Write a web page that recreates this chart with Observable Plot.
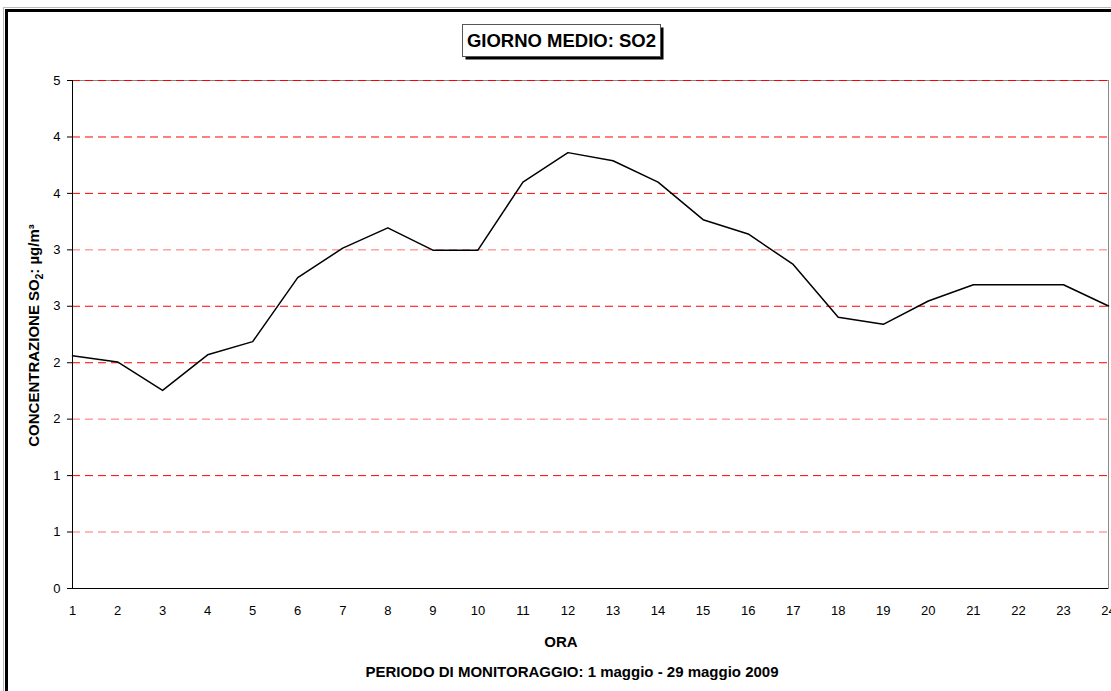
<!DOCTYPE html>
<html>
<head>
<meta charset="utf-8">
<script src="https://cdn.jsdelivr.net/npm/d3@7"></script>
<script src="https://cdn.jsdelivr.net/npm/@observablehq/plot@0.6"></script>
<style>
  html, body { margin: 0; padding: 0; background: #fff; overflow: hidden; }
  #chart { width: 1111px; height: 691px; }
</style>
</head>
<body>
<div id="chart"></div>
<script>
const hours = [1, 2, 3, 4, 5, 6, 7, 8, 9, 10, 11, 12, 13, 14, 15, 16, 17, 18, 19, 20, 21, 22, 23, 24];
const so2 = [2.29, 2.23, 1.95, 2.30, 2.43, 3.06, 3.35, 3.55, 3.33, 3.33, 4.00, 4.29, 4.21, 4.00, 3.63, 3.49, 3.19, 2.67, 2.60, 2.83, 2.99, 2.99, 2.99, 2.78];
const yTicks = [0, 0.556, 1.111, 1.667, 2.222, 2.778, 3.333, 3.889, 4.444, 5];
const yTickLabels = ["0", "1", "1", "2", "2", "3", "3", "4", "4", "5"];
const title = "GIORNO MEDIO: SO2";
const xLabel = "ORA";
const caption = "PERIODO DI MONITORAGGIO: 1 maggio - 29 maggio 2009";

const data = hours.map((h, i) => ({hour: h, value: so2[i]}));
const lightIdx = new Set([1, 3, 6]);
const gridStrong = yTicks.filter((d, i) => i > 0 && !lightIdx.has(i));
const gridLight = yTicks.filter((d, i) => lightIdx.has(i));

const font = "'Liberation Sans', Arial, sans-serif";

const chart = Plot.plot({
  width: 1111,
  height: 691,
  marginLeft: 72,
  marginRight: 3,
  marginTop: 80,
  marginBottom: 103,
  style: {fontFamily: font, fontSize: "13px", color: "#000", background: "#fff", overflow: "visible"},
  x: {domain: [1, 24]},
  y: {domain: [0, 5]},
  marks: [
    Plot.frame({stroke: "#888"}),
    Plot.ruleY(gridStrong, {stroke: "#ff0000", strokeDasharray: "8,5"}),
    Plot.ruleY(gridLight, {stroke: "#ff7070", strokeDasharray: "8,5"}),
    Plot.ruleX([1], {stroke: "#000"}),
    Plot.ruleY([0], {stroke: "#000"}),
    Plot.line(data, {x: "hour", y: "value", stroke: "#000", strokeWidth: 1.5}),
    Plot.axisY({ticks: yTicks, tickFormat: (d, i) => yTickLabels[i], tickSize: 5, tickPadding: 7, label: null}),
    Plot.axisX({ticks: hours, tickFormat: d => String(d), tickSize: 0, tickPadding: 17, label: null})
  ]
});

document.getElementById("chart").appendChild(chart);

const svg = d3.select(chart);
// outer border
svg.append("rect").attr("x", 3.5).attr("y", 7.5).attr("width", 1300).attr("height", 900)
  .attr("fill", "none").attr("stroke", "#bbb").attr("stroke-width", 1);
svg.append("rect").attr("x", 6.5).attr("y", 10.5).attr("width", 1300).attr("height", 900)
  .attr("fill", "none").attr("stroke", "#000").attr("stroke-width", 3);

// title box
svg.append("rect").attr("x", 465.5).attr("y", 27.5).attr("width", 198).attr("height", 32).attr("fill", "#000");
svg.append("rect").attr("x", 462.5).attr("y", 24.5).attr("width", 198).attr("height", 32)
  .attr("fill", "#fff").attr("stroke", "#555").attr("stroke-width", 1);
svg.append("text").attr("x", 561.5).attr("y", 47).attr("text-anchor", "middle")
  .attr("font-family", font).attr("font-weight", "bold").attr("font-size", "18.5px").attr("fill", "#000")
  .text(title);

// x label and caption
svg.append("text").attr("x", 561).attr("y", 647).attr("text-anchor", "middle")
  .attr("font-family", font).attr("font-weight", "bold").attr("font-size", "15px").attr("fill", "#000")
  .text(xLabel);
svg.append("text").attr("x", 572).attr("y", 677).attr("text-anchor", "middle")
  .attr("font-family", font).attr("font-weight", "bold").attr("font-size", "15px").attr("fill", "#000")
  .text(caption);

// y label
const yl = svg.append("text").attr("transform", "translate(39,335.5) rotate(-90)").attr("text-anchor", "middle")
  .attr("font-family", font).attr("font-weight", "bold").attr("font-size", "15px").attr("fill", "#000");
yl.append("tspan").text("CONCENTRAZIONE SO");
yl.append("tspan").attr("font-size", "10px").attr("dy", "4").text("2");
yl.append("tspan").attr("dy", "-4").text(": µg/m³");
</script>
</body>
</html>
